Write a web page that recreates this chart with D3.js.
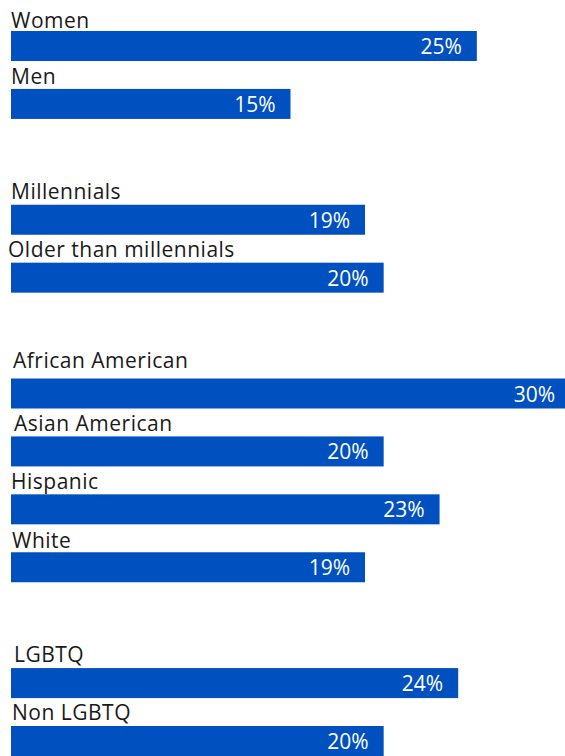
<!DOCTYPE html>
<html>
<head>
<meta charset="utf-8">
<script src="https://cdn.jsdelivr.net/npm/d3@7"></script>
<style>
  body { margin: 0; background: #fff; }
  svg { display: block; }
</style>
</head>
<body>
<div id="chart"></div>
<script>
// data
const categories = ["Women", "Men", "Millennials", "Older than millennials",
    "African American", "Asian American", "Hispanic", "White", "LGBTQ", "Non LGBTQ"];
const values = [25, 15, 19, 20, 30, 20, 23, 19, 24, 20];
const groups = [0, 0, 1, 1, 2, 2, 2, 2, 3, 3];

// small label offsets [dx, dy] as they sit in the original
const labelNudge = [[0, 2], [0, 0], [0, -1], [-3, -1], [2, -5], [3, 0], [0, 0], [1, 1], [3, -1], [1, -1]];

const width = 565, height = 756;
const left = 11;

// build the row list, with an empty slot between groups
let rows = [];
categories.forEach(function(c, i) {
    if (i > 0 && groups[i] != groups[i - 1]) rows.push("gap" + i);
    rows.push(c);
});

let x = d3.scaleLinear()
    .domain([0, 30])
    .range([0, 559]);

let y = d3.scaleBand()
    .domain(rows)
    .range([31, 756])
    .paddingInner(0.482)
    .paddingOuter(0);

let svg = d3.select("#chart")
    .append("svg")
    .attr("width", width)
    .attr("height", height)
    .style("font-family", "'Open Sans', sans-serif");

let data = categories.map(function(c, i) { return {name: c, value: values[i], nudge: labelNudge[i]}; });

svg.selectAll("rect")
    .data(data)
    .enter()
    .append("rect")
    .attr("x", left)
    .attr("y", function(d) { return y(d.name); })
    .attr("width", function(d) { return x(d.value); })
    .attr("height", y.bandwidth())
    .attr("fill", "#0050c0");

// category labels above each bar
svg.selectAll("text.cat")
    .data(data)
    .enter()
    .append("text")
    .attr("class", "cat")
    .attr("x", function(d) { return left + d.nudge[0]; })
    .attr("y", function(d) { return y(d.name) - 5 + d.nudge[1]; })
    .style("font-size", "21px")
    .style("letter-spacing", "0.5px")
    .attr("fill", "#1a1a1a")
    .text(function(d) { return d.name; });

// values inside the bar, right aligned
svg.selectAll("text.val")
    .data(data)
    .enter()
    .append("text")
    .attr("class", "val")
    .attr("x", function(d) { return left + x(d.value) - 15; })
    .attr("y", function(d) { return y(d.name) + y.bandwidth() - 7; })
    .attr("text-anchor", "end")
    .style("font-size", "21px")
    .attr("fill", "#fff")
    .text(function(d) { return d.value + "%"; });
</script>
</body>
</html>
